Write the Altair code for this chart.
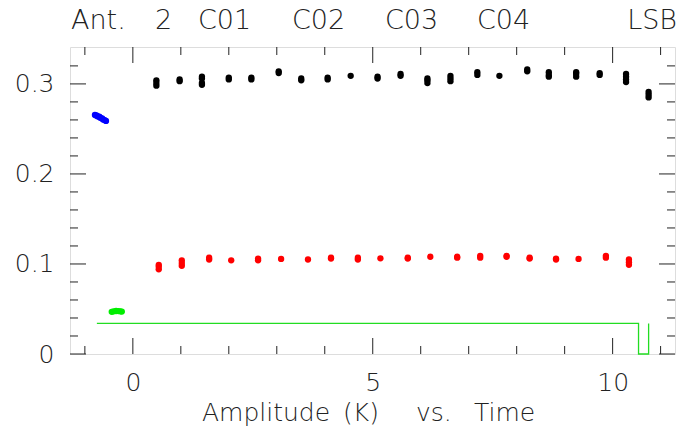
import altair as alt
import pandas as pd

# ---- data -------------------------------------------------------------
# Black band: scan times and amplitude readings (several per scan)
black_t = [0.49, 0.975, 1.44, 2.0, 2.47, 3.04, 3.51, 4.06, 4.54, 5.1, 5.58,
           6.14, 6.62, 7.18, 7.64, 8.22, 8.67, 9.24, 9.73, 10.28, 10.75]
black_amp = [
    [0.298, 0.301, 0.304], [0.303, 0.305], [0.299, 0.301, 0.306, 0.308],
    [0.305, 0.307], [0.305, 0.307], [0.312, 0.314], [0.304, 0.306],
    [0.305, 0.307], [0.309], [0.306, 0.308], [0.309, 0.311],
    [0.301, 0.304, 0.306], [0.303, 0.306, 0.309], [0.310, 0.313], [0.309],
    [0.314, 0.316], [0.308, 0.310, 0.313], [0.308, 0.311, 0.313],
    [0.310, 0.312], [0.302, 0.305, 0.308, 0.311], [0.285, 0.288, 0.291],
]

# Red band
red_t = [0.54, 1.02, 1.59, 2.05, 2.61, 3.09, 3.65, 4.13, 4.69, 5.16, 5.73,
         6.2, 6.76, 7.24, 7.79, 8.27, 8.82, 9.29, 9.86, 10.34]
red_amp = [
    [0.094, 0.097, 0.099], [0.098, 0.101, 0.104], [0.105, 0.107], [0.104],
    [0.104, 0.106], [0.1056], [0.105], [0.106, 0.107], [0.105, 0.107],
    [0.1063], [0.106, 0.107], [0.108], [0.107, 0.108], [0.107, 0.109],
    [0.108, 0.109], [0.106, 0.107], [0.105, 0.106], [0.1056],
    [0.107, 0.109], [0.099, 0.102, 0.105],
]

# Blue cluster
blue_t = [-0.79, -0.76, -0.74, -0.70, -0.68, -0.64, -0.62, -0.59, -0.56]
blue_amp = [0.2655, 0.2651, 0.2641, 0.2636, 0.2624, 0.2617, 0.2604, 0.2598, 0.2589]

# Green cluster
green_t = [-0.44, -0.40, -0.35, -0.30, -0.26, -0.23]
green_amp = [0.0468, 0.0474, 0.0478, 0.0477, 0.0474, 0.0471]

# Green step trace
step_t = [-0.75, 10.54, 10.54, 10.75, 10.75]
step_amp = [0.034, 0.034, 0.0, 0.0, 0.034]

# Axis ticks and labels
x_major = [0, 5, 10]
x_minor = [-1, 1, 2, 3, 4, 6, 7, 8, 9, 11]
y_major = [0, 0.1, 0.2, 0.3]
y_minor = [0.02, 0.04, 0.06, 0.08, 0.12, 0.14, 0.16, 0.18,
           0.22, 0.24, 0.26, 0.28, 0.32]

# ---- tables -----------------------------------------------------------
def groups(ts, amps):
    return pd.DataFrame([{"t": t, "a": a} for t, vals in zip(ts, amps) for a in vals])

black_df = groups(black_t, black_amp)
red_df = groups(red_t, red_amp)
blue_df = pd.DataFrame({"t": blue_t, "a": blue_amp})
green_df = pd.DataFrame({"t": green_t, "a": green_amp})
step_df = pd.DataFrame({"t": step_t, "a": step_amp, "i": range(len(step_t))})

# ---- layout / style ---------------------------------------------------
W, H = 605, 307
PAD_L, PAD_T = 70, 47
FONT = "DejaVu Sans"
INK = "#222222"

xs = alt.Scale(domain=[-1.31, 11.3], nice=False, zero=False)
ys = alt.Scale(domain=[0, 0.341], nice=False, zero=False)

xaxis = alt.Axis(values=x_major, labelExpr="format(datum.value, 'd')",
                 ticks=False, domain=False, grid=False, title=None,
                 labelFont=FONT, labelFontSize=25, labelFontWeight=200,
                 labelColor=INK, labelPadding=16, labelFlush=False)
yaxis = alt.Axis(values=y_major,
                 labelExpr="datum.value == 0 ? '0' : format(datum.value, '.1f')",
                 ticks=False, domain=False, grid=False, title=None,
                 labelFont=FONT, labelFontSize=25, labelFontWeight=200,
                 labelColor=INK, labelPadding=16, labelFlush=False)

X = alt.X("t:Q", scale=xs, axis=xaxis)
Y = alt.Y("a:Q", scale=ys, axis=yaxis)


def points(df, color):
    return alt.Chart(df).mark_circle(size=40, opacity=1, color=color).encode(x=X, y=Y)


def xticks(vals, length, top):
    df = pd.DataFrame({"t": vals})
    y1, y2 = (0, length) if top else (H, H - length)
    return alt.Chart(df).mark_rule(color=INK, strokeWidth=1).encode(
        x=X, y=alt.value(y1), y2=alt.value(y2))


def yticks(vals, length, right):
    df = pd.DataFrame({"a": vals})
    x1, x2 = (W, W - length) if right else (0, length)
    return alt.Chart(df).mark_rule(color=INK, strokeWidth=1).encode(
        y=Y, x=alt.value(x1), x2=alt.value(x2))


def word(txt, x, y, size=27, align="left"):
    return alt.Chart(alt.Data(values=[{}])).mark_text(
        text=txt, align=align, baseline="alphabetic", font=FONT,
        fontSize=size, fontWeight=200, color=INK,
    ).encode(x=alt.value(x - PAD_L), y=alt.value(y - PAD_T))


step = alt.Chart(step_df).mark_line(color="#22dd22", strokeWidth=1.3).encode(
    x=X, y=Y, order=alt.Order("i:Q"))

ticks = [
    xticks(x_major, 16, False), xticks(x_minor, 8, False),
    xticks(x_major, 16, True), xticks(x_minor, 8, True),
    yticks(y_major, 16, False), yticks(y_minor, 8, False),
    yticks(y_major, 16, True), yticks(y_minor, 8, True),
]

title_words = [
    word("Ant.", 71, 29), word("2", 155, 29), word("C01", 198, 29),
    word("C02", 292, 29), word("C03", 385, 29), word("C04", 477, 29),
    word("LSB", 677, 29, align="right"),
]
xlabel_words = [
    word("Amplitude", 202, 421, 25), word("(K)", 343, 421, 25),
    word("vs.", 416, 421, 25), word("Time", 474, 421, 25),
]

chart = alt.layer(
    step,
    points(blue_df, "#0000ff"),
    points(green_df, "#00ee00"),
    points(black_df, "#000000"),
    points(red_df, "#ff0000"),
    *ticks,
    *title_words,
    *xlabel_words,
).properties(
    width=W, height=H,
    autosize=alt.AutoSizeParams(type="none"),
    padding={"left": PAD_L, "top": PAD_T, "right": 678 - PAD_L - W, "bottom": 429 - PAD_T - H},
).configure_view(stroke="#333333", strokeWidth=1.5
).configure(background="white")

chart.save("out.html", embed_options={"renderer": "svg", "actions": False})
